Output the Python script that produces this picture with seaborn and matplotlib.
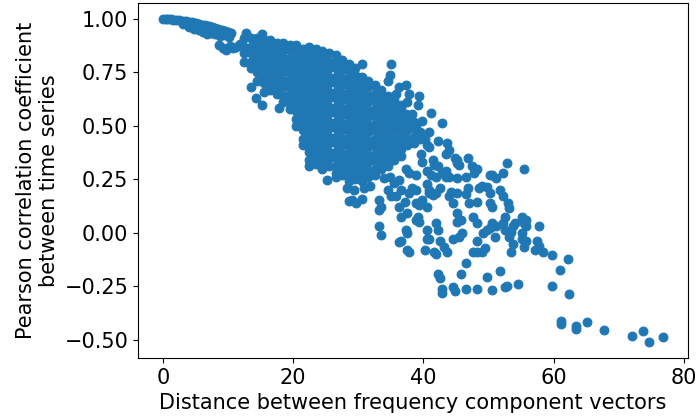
import seaborn as sns
import matplotlib.pyplot as plt
import pandas as pd

# top-left strip: almost identical series (distance ~0, r ~1)
tail_x = [0.0, 0.4, 0.8, 1.2, 1.6, 2.0, 2.5, 3.0, 3.5, 4.0, 4.5, 5.0, 5.5, 6.0,
          6.5, 7.0, 7.5, 8.0, 8.5, 9.0, 9.5, 10.0, 10.5,
          3.0, 4.0, 4.8, 5.5, 6.2, 6.8, 7.4, 8.0, 8.8, 9.5, 10.2,
          8.6, 9.2, 9.7, 10.3, 10.8, 11.2, 11.8, 12.2, 12.8, 15.2]
tail_y = [1.0, 1.0, 0.999, 0.998, 0.997, 0.996, 0.995, 0.993, 0.99, 0.988, 0.985, 0.98, 0.977, 0.973,
          0.97, 0.966, 0.962, 0.958, 0.953, 0.95, 0.946, 0.94, 0.935,
          0.975, 0.965, 0.955, 0.95, 0.94, 0.93, 0.935, 0.93, 0.92, 0.925, 0.915,
          0.88, 0.865, 0.855, 0.875, 0.865, 0.87, 0.885, 0.88, 0.935, 0.93]

# dense body of the cloud, read column by column
core_cols = [12.5, 13.5, 14.5, 15.5, 16.5, 17.5, 18.5, 19.5, 20.5, 21.5, 22.5, 23.5, 24.5, 25.5,
             26.5, 27.5, 28.5, 29.5, 30.5, 31.5, 32.5, 33.5, 34.5, 35.5, 36.5, 37.5, 38.5, 39.5]
core_vals = [
    [0.80, 0.84, 0.87, 0.91],
    [0.77, 0.80, 0.84, 0.87, 0.91],
    [0.71, 0.75, 0.78, 0.82, 0.85, 0.89, 0.91],
    [0.70, 0.73, 0.77, 0.80, 0.84, 0.87, 0.90],
    [0.67, 0.70, 0.74, 0.77, 0.81, 0.84, 0.88, 0.90],
    [0.65, 0.68, 0.72, 0.75, 0.79, 0.82, 0.86, 0.89],
    [0.61, 0.64, 0.68, 0.71, 0.75, 0.78, 0.82, 0.85, 0.89],
    [0.58, 0.61, 0.65, 0.68, 0.72, 0.75, 0.79, 0.82, 0.86, 0.88],
    [0.50, 0.53, 0.57, 0.60, 0.64, 0.67, 0.71, 0.74, 0.78, 0.81, 0.85, 0.88],
    [0.41, 0.44, 0.48, 0.51, 0.55, 0.58, 0.62, 0.65, 0.69, 0.72, 0.76, 0.79, 0.83, 0.86],
    [0.31, 0.34, 0.38, 0.41, 0.45, 0.48, 0.52, 0.55, 0.59, 0.62, 0.66, 0.69, 0.73, 0.76, 0.80, 0.83, 0.87],
    [0.32, 0.35, 0.39, 0.42, 0.46, 0.49, 0.53, 0.56, 0.60, 0.63, 0.67, 0.70, 0.74, 0.77, 0.81, 0.84, 0.86],
    [0.30, 0.33, 0.37, 0.40, 0.44, 0.47, 0.51, 0.54, 0.58, 0.61, 0.65, 0.68, 0.72, 0.75, 0.79, 0.82, 0.85],
    [0.31, 0.35, 0.38, 0.42, 0.45, 0.49, 0.52, 0.56, 0.59, 0.63, 0.66, 0.70, 0.73, 0.77, 0.80, 0.84],
    [0.28, 0.31, 0.35, 0.38, 0.42, 0.45, 0.49, 0.52, 0.56, 0.59, 0.63, 0.66, 0.70, 0.73, 0.77, 0.80, 0.83],
    [0.27, 0.30, 0.34, 0.37, 0.41, 0.44, 0.48, 0.51, 0.55, 0.58, 0.62, 0.65, 0.69, 0.72, 0.76, 0.79, 0.81],
    [0.24, 0.27, 0.31, 0.34, 0.38, 0.41, 0.45, 0.48, 0.52, 0.55, 0.59, 0.62, 0.66, 0.69, 0.73, 0.76, 0.79],
    [0.25, 0.29, 0.32, 0.36, 0.39, 0.43, 0.46, 0.50, 0.53, 0.57, 0.60, 0.64, 0.67, 0.71, 0.74, 0.77],
    [0.24, 0.27, 0.31, 0.34, 0.38, 0.41, 0.45, 0.48, 0.52, 0.55, 0.59, 0.62, 0.66, 0.69, 0.73],
    [0.26, 0.29, 0.33, 0.36, 0.40, 0.43, 0.47, 0.50, 0.54, 0.57, 0.61, 0.64, 0.68, 0.71],
    [0.27, 0.30, 0.34, 0.37, 0.41, 0.44, 0.48, 0.51, 0.55, 0.58, 0.62, 0.65, 0.69],
    [0.30, 0.33, 0.37, 0.40, 0.44, 0.47, 0.51, 0.54, 0.58, 0.61, 0.65, 0.67],
    [0.31, 0.34, 0.38, 0.41, 0.45, 0.48, 0.52, 0.55, 0.59, 0.62, 0.64],
    [0.34, 0.37, 0.41, 0.44, 0.48, 0.51, 0.55, 0.58, 0.62],
    [0.36, 0.39, 0.43, 0.46, 0.50, 0.53, 0.57, 0.59],
    [0.41, 0.44, 0.48, 0.51, 0.55],
    [0.42, 0.45, 0.49, 0.52],
    [0.44, 0.47],
]

# fringe around the body
mid_x = [13.5, 14.3, 15.2, 15.5, 17.8,
         25.2, 26.6, 28.2, 28.6, 29.4, 29.1, 29.7, 30.9, 30.6, 31.8,
         33.2, 33.5, 33.2, 34.5, 35.1, 35.8, 36.3, 37.1, 37.5, 36.6,
         38.9, 39.1, 39.4, 38.2, 38.9, 40.5, 40.9, 40.5, 41.2, 42.0, 42.5, 42.0,
         34.8, 36.3, 37.8, 38.9, 37.4, 39.8, 39.7, 40.5, 40.2, 41.4, 42.2,
         34.0, 35.5, 36.6, 37.8,
         42.2, 42.9, 40.9, 41.2, 39.8, 39.4, 39.1, 37.4, 37.8, 37.5, 38.3, 38.9,
         34.8, 34.5, 35.1, 30.6, 35.8, 36.3,
         34.5, 35.2, 35.8, 36.6, 37.4, 38.2, 38.9, 39.4,
         41.7, 42.9, 43.5, 40.9, 41.4, 39.8, 40.5, 39.4, 38.9, 40.9, 43.5]
mid_y = [0.68, 0.63, 0.60, 0.66, 0.585,
         0.245, 0.26, 0.21, 0.15, 0.20, 0.155, 0.14, 0.21, 0.16, 0.22,
         0.155, 0.12, 0.105, 0.20, 0.17, 0.17, 0.12, 0.145, 0.09, 0.075,
         0.14, 0.075, 0.05, 0.21, 0.20, 0.23, 0.185, 0.29, 0.27, 0.26, 0.21, 0.185,
         0.26, 0.245, 0.28, 0.27, 0.30, 0.33, 0.37, 0.41, 0.44, 0.34, 0.31,
         0.255, 0.235, 0.20, 0.185,
         0.43, 0.515, 0.47, 0.56, 0.525, 0.64, 0.60, 0.69, 0.65, 0.61, 0.555, 0.51,
         0.74, 0.71, 0.79, 0.79, 0.65, 0.68,
         0.62, 0.63, 0.585, 0.60, 0.555, 0.515, 0.49, 0.445,
         0.315, 0.28, 0.26, 0.20, 0.175, 0.155, 0.12, 0.13, 0.06, 0.40, 0.37]

# scattered points to the lower right
spread_x = [43.7, 44.0, 44.8, 45.2, 46.8, 47.4, 48.2, 52.8, 55.5, 50.2, 49.0, 49.7, 51.7,
            46.6, 45.1, 44.0, 44.5, 46.6, 47.0, 48.2, 50.6, 53.0, 53.2, 52.5, 55.2, 55.5,
            54.0, 50.6, 51.2, 51.0, 52.5, 53.5, 53.2, 55.2, 55.8, 55.2, 53.7, 53.5,
            49.1, 49.7, 50.2, 49.4, 49.0, 48.2, 47.6, 46.6, 48.2, 46.0, 45.5, 44.5,
            45.1, 45.8, 45.1, 47.6, 48.2, 43.2, 43.7, 42.5, 42.0, 42.2, 40.5, 40.5,
            40.9, 40.2, 41.7, 42.0, 37.5, 37.8, 36.6, 36.3, 37.4, 37.5, 33.2, 33.5,
            42.2, 42.5, 45.8, 49.7, 51.7, 42.8, 42.9, 44.5, 44.8, 46.6, 48.3, 50.6,
            52.5, 52.8, 54.5,
            57.7, 57.4, 57.8, 58.3, 59.8, 62.2, 61.0, 59.7, 62.3, 55.5, 57.1,
            52.2, 52.2, 51.2, 50.6, 50.2, 50.2, 52.2, 53.7, 55.8, 55.8, 48.6, 47.8,
            44.3, 45.1, 46.8, 43.5, 44.0, 45.1, 45.5]
spread_y = [0.42, 0.385, 0.35, 0.325, 0.35, 0.31, 0.30, 0.325, 0.30, 0.27, 0.22, 0.215, 0.20,
            0.26, 0.255, 0.17, 0.14, 0.18, 0.14, 0.145, 0.12, 0.14, 0.115, 0.075, 0.075, 0.045,
            0.045, 0.045, 0.03, -0.02, 0.015, 0.005, -0.02, 0.0, -0.04, -0.03, -0.055, -0.09,
            0.0, 0.015, 0.02, -0.07, -0.09, -0.09, -0.09, -0.14, -0.04, 0.0, -0.02, -0.03,
            0.09, 0.06, 0.05, 0.075, 0.045, -0.065, -0.09, -0.04, 0.045, 0.015, 0.015, -0.03,
            -0.03, -0.08, -0.09, -0.1, -0.08, -0.09, -0.04, -0.045, 0.015, 0.0, 0.03, -0.01,
            -0.195, -0.21, -0.195, -0.205, -0.18, -0.265, -0.28, -0.255, -0.275, -0.265, -0.265, -0.27,
            -0.255, -0.25, -0.24,
            0.03, -0.04, -0.06, -0.09, -0.105, -0.125, -0.175, -0.25, -0.285, -0.065, -0.08,
            0.17, 0.28, 0.255, 0.27, 0.185, 0.14, 0.045, 0.03, 0.06, 0.03, 0.21, 0.28,
            0.19, 0.185, 0.21, 0.29, 0.26, 0.34, 0.315]

# far lower-right group
far_x = [61.2, 61.2, 63.4, 63.4, 65.2, 67.7, 72.0, 73.8, 74.6, 76.8]
far_y = [-0.415, -0.425, -0.435, -0.45, -0.42, -0.455, -0.485, -0.46, -0.51, -0.49]


def build_frame():
    xs = list(tail_x)
    ys = list(tail_y)
    for cx, col in zip(core_cols, core_vals):
        xs += [cx] * len(col)
        ys += col
    xs += mid_x + spread_x + far_x
    ys += mid_y + spread_y + far_y
    return pd.DataFrame({'distance': xs, 'pearson': ys})


df = build_frame()

fig, ax = plt.subplots(figsize=(6.97, 4.19), dpi=100)
# edge in the face colour, like plain plt.scatter
sns.scatterplot(data=df, x='distance', y='pearson', ax=ax,
                s=40, linewidth=0.8, color='#1f77b4', edgecolor='#1f77b4')

ax.set_xticks([0, 20, 40, 60, 80])
ax.tick_params(labelsize=15)
ax.set_xlabel('Distance between frequency component vectors', fontsize=15)
ax.set_ylabel('Pearson correlation coefficient\nbetween time series', fontsize=15)

fig.subplots_adjust(left=0.198, right=0.987, top=0.993, bottom=0.146)
fig.savefig('out.png', dpi=100)
